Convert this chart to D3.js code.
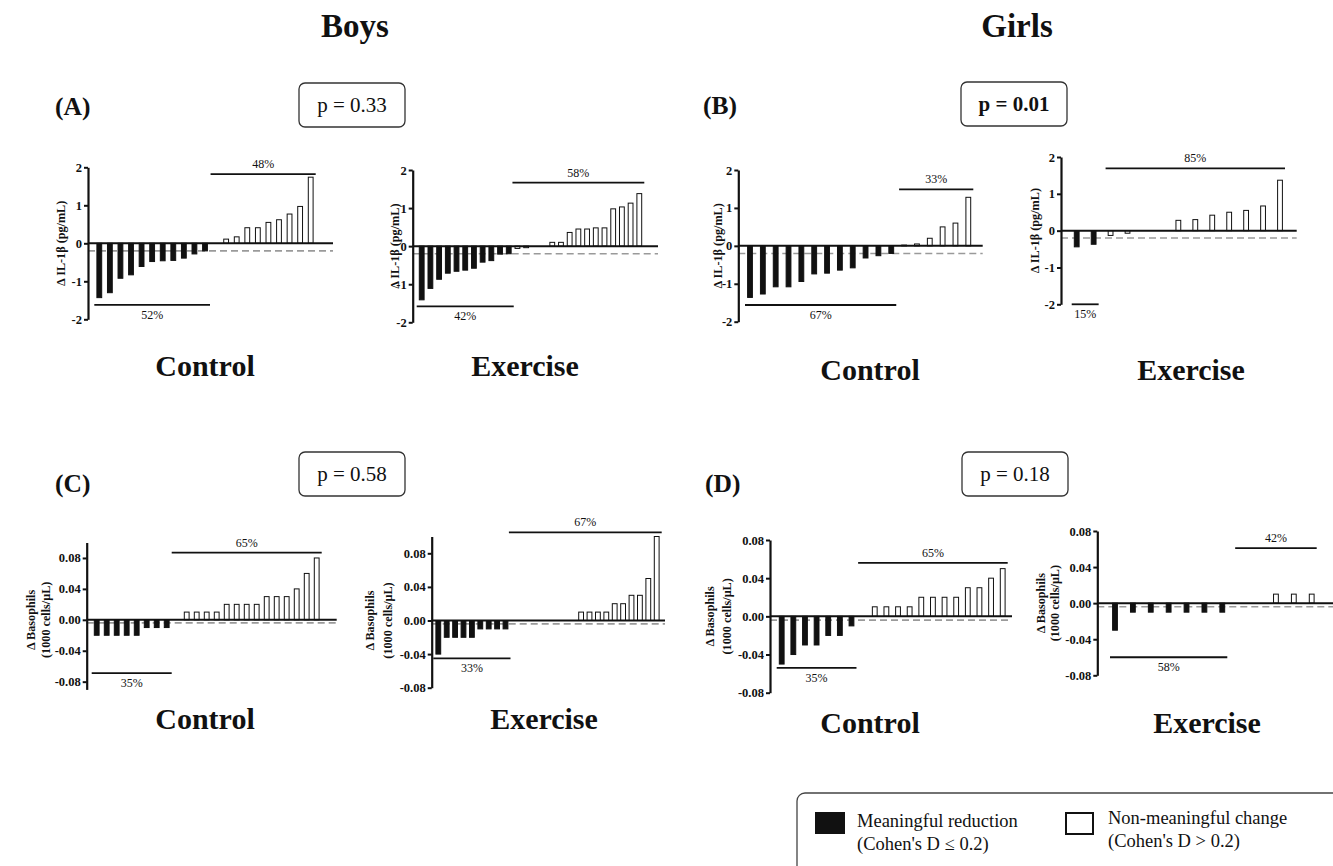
<!DOCTYPE html>
<html>
<head>
<meta charset="utf-8">
<script src="https://cdn.jsdelivr.net/npm/d3@7"></script>
<style>
body { margin: 0; background: #fff; }
svg text { font-family: "Liberation Serif", "Times New Roman", serif; fill: #111; }
</style>
</head>
<body>
<div id="chart"></div>
<script>
// Waterfall plots - change in IL-1b and basophils, boys vs girls

// ---- data ----
var boysIL1bControl = [-1.43, -1.30, -0.92, -0.83, -0.61, -0.48, -0.46, -0.45, -0.39, -0.28, -0.20,
    0.0, 0.11, 0.17, 0.41, 0.41, 0.55, 0.62, 0.77, 0.97, 1.74];
var boysIL1bExercise = [-1.41, -1.11, -0.87, -0.71, -0.66, -0.63, -0.58, -0.42, -0.38, -0.21, -0.20,
    -0.06, -0.04, 0, 0, 0.10, 0.10, 0.36, 0.45, 0.45, 0.48, 0.48, 0.98, 1.03, 1.13, 1.38];
var girlsIL1bControl = [-1.36, -1.27, -1.08, -1.08, -0.94, -0.74, -0.72, -0.64, -0.58, -0.32, -0.26, -0.20,
    0.02, 0.05, 0.20, 0.50, 0.60, 1.28];
var girlsIL1bExercise = [-0.44, -0.37, -0.13, -0.07, 0, 0, 0.28, 0.30, 0.42, 0.50, 0.55, 0.67, 1.37];

var boysBasoControl = [-0.02, -0.02, -0.02, -0.02, -0.02, -0.01, -0.01, -0.01, 0,
    0.01, 0.01, 0.01, 0.01, 0.02, 0.02, 0.02, 0.02, 0.03, 0.03, 0.03, 0.04, 0.06, 0.08];
var boysBasoExercise = [-0.04, -0.02, -0.02, -0.02, -0.02, -0.01, -0.01, -0.01, -0.01,
    0, 0, 0, 0, 0, 0, 0, 0, 0.01, 0.01, 0.01, 0.01, 0.02, 0.02, 0.03, 0.03, 0.05, 0.10];
var girlsBasoControl = [-0.05, -0.04, -0.03, -0.03, -0.02, -0.02, -0.01, 0,
    0.01, 0.01, 0.01, 0.01, 0.02, 0.02, 0.02, 0.02, 0.03, 0.03, 0.04, 0.05];
var girlsBasoExercise = [-0.03, -0.01, -0.01, -0.01, -0.01, -0.01, -0.01, 0, 0, 0.01, 0.01, 0.01];

// number of "meaningful reduction" participants (first n bars, black)
var reducedCounts = {
    boysIL1bControl: 11, boysIL1bExercise: 11, girlsIL1bControl: 12, girlsIL1bExercise: 2,
    boysBasoControl: 8, boysBasoExercise: 9, girlsBasoControl: 7, girlsBasoExercise: 7
};

var ticksIL1b = [-2, -1, 0, 1, 2];
var ticksBaso = [-0.08, -0.04, 0, 0.04, 0.08];
var pLabels = ["p = 0.33", "p = 0.01", "p = 0.58", "p = 0.18"];
var panelLetters = ["(A)", "(B)", "(C)", "(D)"];
var groupNames = ["Boys", "Girls"];
var armNames = ["Control", "Exercise"];

// ---- svg setup ----
var svgWidth = 1333;
var svgHeight = 866;

var svg = d3.select("#chart")
    .append("svg")
    .attr("width", svgWidth)
    .attr("height", svgHeight);

svg.append("rect").attr("width", svgWidth).attr("height", svgHeight).attr("fill", "#fff");

var barW = 4.8;
var ilTitle = ["\u0394 IL-1\u03b2 (pg/mL)"];
var basoTitle = ["\u0394 Basophils", "(1000 cells/\u03bcL)"];
var fmtIL = d => String(d);
var fmtBaso = d => d.toFixed(2);

// layout of each small chart (pixel positions, bracket heights)
var panels = [
    {key: "boysIL1bControl", values: boysIL1bControl, domain: [-2, 2], ticks: ticksIL1b, fmt: fmtIL, thr: -0.2,
     axisX: 88, yTop: 167.3, yBot: 319.3, right: 333, first: 99.3, last: 310.7,
     brTop: 1.82, brBot: -1.62, title: ilTitle, titleX: [61]},
    {key: "boysIL1bExercise", values: boysIL1bExercise, domain: [-2, 2], ticks: ticksIL1b, fmt: fmtIL, thr: -0.2,
     axisX: 412.7, yTop: 170, yBot: 322.3, right: 658, first: 421.7, last: 639.3,
     brTop: 1.67, brBot: -1.58, title: ilTitle, titleX: [395]},
    {key: "girlsIL1bControl", values: girlsIL1bControl, domain: [-2, 2], ticks: ticksIL1b, fmt: fmtIL, thr: -0.2,
     axisX: 738.3, yTop: 170, yBot: 321.7, right: 982.7, first: 750, last: 968.3,
     brTop: 1.49, brBot: -1.56, title: ilTitle, titleX: [718]},
    {key: "girlsIL1bExercise", values: girlsIL1bExercise, domain: [-2, 2], ticks: ticksIL1b, fmt: fmtIL, thr: -0.2,
     axisX: 1061, yTop: 157, yBot: 304.3, right: 1296.7, first: 1076.7, last: 1280,
     brTop: 1.69, brBot: -2.0, title: ilTitle, titleX: [1035]},
    {key: "boysBasoControl", values: boysBasoControl, domain: [-0.09, 0.1], ticks: ticksBaso, fmt: fmtBaso, thr: -0.004,
     axisX: 86.7, yTop: 542.5, yBot: 689.4, right: 336.7, first: 96.7, last: 316.7,
     brTop: 0.087, brBot: -0.069, title: basoTitle, titleX: [31, 46]},
    {key: "boysBasoExercise", values: boysBasoExercise, domain: [-0.08, 0.1], ticks: ticksBaso, fmt: fmtBaso, thr: -0.004,
     axisX: 431.7, yTop: 536.5, yBot: 687.7, right: 665, first: 438.3, last: 656.7,
     brTop: 0.105, brBot: -0.045, title: basoTitle, titleX: [370, 388]},
    {key: "girlsBasoControl", values: girlsBasoControl, domain: [-0.08, 0.08], ticks: ticksBaso, fmt: fmtBaso, thr: -0.004,
     axisX: 770, yTop: 540, yBot: 692.7, right: 1012, first: 781.7, last: 1002.7,
     brTop: 0.056, brBot: -0.054, title: basoTitle, titleX: [710, 727]},
    {key: "girlsBasoExercise", values: girlsBasoExercise, domain: [-0.08, 0.08], ticks: ticksBaso, fmt: fmtBaso, thr: -0.004,
     axisX: 1097.3, yTop: 531, yBot: 675.3, right: 1333, first: 1115, last: 1311.7,
     brTop: 0.061, brBot: -0.06, title: basoTitle, titleX: [1041, 1055]}
];

function drawPanel(p) {
    var g = svg.append("g");
    var n = p.values.length;
    var reduced = reducedCounts[p.key];
    var y = d3.scaleLinear().domain(p.domain).range([p.yBot, p.yTop]);
    var step = (p.last - p.first) / (n - 1);
    var pad = 1 - barW / step;
    var x = d3.scaleBand()
        .domain(d3.range(n))
        .range([p.first - step / 2, p.last + step / 2])
        .paddingInner(pad)
        .paddingOuter(pad / 2);
    var cx = i => x(i) + x.bandwidth() / 2;

    // threshold (dashed) and zero line
    g.append("line")
        .attr("x1", p.axisX).attr("x2", p.right)
        .attr("y1", y(p.thr)).attr("y2", y(p.thr))
        .attr("stroke", "#9a9a9a").attr("stroke-width", 1.6)
        .attr("stroke-dasharray", "7,4");

    g.selectAll("rect.bar")
        .data(p.values)
        .enter()
        .append("rect")
        .attr("class", "bar")
        .attr("x", (d, i) => x(i))
        .attr("width", x.bandwidth())
        .attr("y", d => y(Math.max(0, d)))
        .attr("height", d => Math.abs(y(d) - y(0)))
        .attr("fill", (d, i) => i < reduced ? "#111" : "#fff")
        .attr("stroke", "#111")
        .attr("stroke-width", 1);

    g.append("line")
        .attr("x1", p.axisX).attr("x2", p.right)
        .attr("y1", y(0)).attr("y2", y(0))
        .attr("stroke", "#111").attr("stroke-width", 2);

    // y axis
    var leftAxis = d3.axisLeft(y)
        .tickValues(p.ticks)
        .tickFormat(p.fmt)
        .tickSize(4)
        .tickSizeOuter(0);
    var ax = g.append("g")
        .attr("transform", `translate(${p.axisX},0)`)
        .call(leftAxis);
    ax.select(".domain").attr("stroke", "#111").attr("stroke-width", 2.2);
    ax.selectAll(".tick line").attr("stroke", "#111").attr("stroke-width", 2);
    ax.selectAll(".tick text")
        .attr("font-weight", "bold")
        .attr("font-size", 12.5)
        .attr("fill", "#111")
        .attr("x", -6);

    // axis title (rotated)
    p.title.forEach(function(t, k) {
        g.append("text")
            .attr("transform", `translate(${p.titleX[k]},${y(0)}) rotate(-90)`)
            .attr("text-anchor", "middle")
            .attr("dominant-baseline", "central")
            .attr("font-weight", "bold")
            .attr("font-size", 12.2)
            .text(t);
    });

    // brackets with percentages
    var pctLow = Math.round(reduced / n * 100);
    var pctHigh = 100 - pctLow;
    var brackets = [
        {x1: cx(0) - 5, x2: cx(reduced - 1) + 5, yv: p.brBot, label: pctLow + "%", dy: 14},
        {x1: cx(reduced) - 5, x2: cx(n - 1) + 5, yv: p.brTop, label: pctHigh + "%", dy: -6}
    ];
    brackets.forEach(function(b) {
        g.append("line")
            .attr("x1", b.x1).attr("x2", b.x2)
            .attr("y1", y(b.yv)).attr("y2", y(b.yv))
            .attr("stroke", "#111").attr("stroke-width", 1.8);
        g.append("text")
            .attr("x", (b.x1 + b.x2) / 2)
            .attr("y", y(b.yv) + b.dy)
            .attr("text-anchor", "middle")
            .attr("font-size", 12)
            .attr("fill", "#333")
            .text(b.label);
    });
}

panels.forEach(drawPanel);

// ---- headings ----
var headX = [355, 1017];
groupNames.forEach(function(t, i) {
    svg.append("text")
        .attr("x", headX[i]).attr("y", 37)
        .attr("text-anchor", "middle")
        .attr("font-size", 33)
        .attr("font-weight", "bold")
        .text(t);
});

var letterPos = [[55, 115], [703, 114], [55, 492], [705, 492]];
panelLetters.forEach(function(t, i) {
    svg.append("text")
        .attr("x", letterPos[i][0]).attr("y", letterPos[i][1])
        .attr("font-size", 25.5)
        .attr("font-weight", "bold")
        .text(t);
});

var pBox = [[299, 83], [961, 82], [299, 452], [962, 452]];
pLabels.forEach(function(t, i) {
    svg.append("rect")
        .attr("x", pBox[i][0]).attr("y", pBox[i][1])
        .attr("width", 106).attr("height", 44)
        .attr("rx", 6)
        .attr("fill", "#fff")
        .attr("stroke", "#333").attr("stroke-width", 1.3);
    svg.append("text")
        .attr("x", pBox[i][0] + 53).attr("y", pBox[i][1] + 29)
        .attr("text-anchor", "middle")
        .attr("font-size", 21)
        .attr("font-weight", i === 1 ? "bold" : "normal")
        .text(t);
});

// Control / Exercise labels under each pair
var armPos = [[205, 376], [525, 376], [870, 380], [1191, 380],
              [205, 729], [544, 729], [870, 733], [1207, 733]];
armPos.forEach(function(pos, i) {
    svg.append("text")
        .attr("x", pos[0]).attr("y", pos[1])
        .attr("text-anchor", "middle")
        .attr("font-size", 30)
        .attr("font-weight", "bold")
        .text(armNames[i % 2]);
});

// ---- legend ----
var legend = svg.append("g");
legend.append("rect")
    .attr("x", 797).attr("y", 793)
    .attr("width", 560).attr("height", 90)
    .attr("rx", 8)
    .attr("fill", "#fff")
    .attr("stroke", "#444").attr("stroke-width", 1.3);
legend.append("rect")
    .attr("x", 815).attr("y", 812).attr("width", 30).attr("height", 22)
    .attr("fill", "#111");
legend.append("rect")
    .attr("x", 1066).attr("y", 813).attr("width", 27).attr("height", 21)
    .attr("fill", "#fff").attr("stroke", "#111").attr("stroke-width", 2);
var legendText = [
    [857, 827, "Meaningful reduction"], [857, 850, "(Cohen's D \u2264 0.2)"],
    [1108, 824, "Non-meaningful change"], [1108, 847, "(Cohen's D > 0.2)"]
];
legendText.forEach(function(t) {
    legend.append("text")
        .attr("x", t[0]).attr("y", t[1])
        .attr("font-size", 18.5)
        .attr("fill", "#222")
        .text(t[2]);
});
</script>
</body>
</html>
